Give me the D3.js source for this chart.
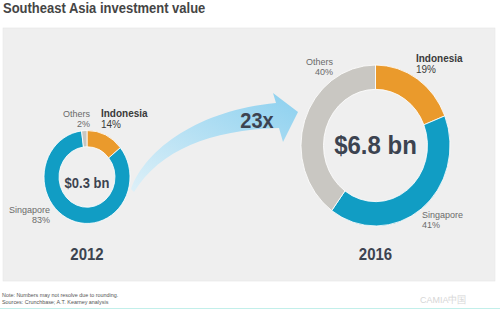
<!DOCTYPE html>
<html>
<head>
<meta charset="utf-8">
<script src="https://cdn.jsdelivr.net/npm/d3@7"></script>
<style>
  html, body { margin: 0; padding: 0; background: #ffffff; }
  svg { display: block; font-family: "Liberation Sans", Arial, Helvetica, sans-serif; }
</style>
</head>
<body>
<svg id="chart" width="500" height="309"></svg>
<script>
// Investment by country, share of total (%)
const categories = ["Indonesia", "Singapore", "Others"];
const years = ["2012", "2016"];
const totals = ["$0.3 bn", "$6.8 bn"];
const share2012 = [14, 83, 2];
const share2016 = [19, 41, 40];
const growthLabel = "23x";
const title = "Southeast Asia investment value";
const notes = ["Note: Numbers may not resolve due to rounding.",
               "Sources: Crunchbase; A.T. Kearney analysis"];

const colors = d3.scaleOrdinal()
  .domain(categories)
  .range(["#EA9A2C", "#119DC4", "#C9C7C2"]);

const svg = d3.select("#chart");
const SY = 1.08;                 // slight vertical stretch of the whole figure
const Y = v => v / SY;
const root = svg.append("g").attr("transform", `scale(1,${SY})`);

// title
root.append("text")
  .attr("x", 3).attr("y", Y(13))
  .attr("font-size", 13).attr("font-weight", "bold")
  .attr("fill", "#454545")
  .text(title);

// panel
root.append("rect")
  .attr("x", 3).attr("y", Y(28)).attr("width", 492).attr("height", Y(281) - Y(28))
  .attr("fill", "#EFEFEF").attr("stroke", "#E6E6E6").attr("stroke-width", 0.6);

// growth arrow
const defs = svg.append("defs");
const grad = defs.append("linearGradient").attr("id", "arrowGrad")
  .attr("x1", "0%").attr("y1", "100%").attr("x2", "100%").attr("y2", "0%");
grad.append("stop").attr("offset", "0%").attr("stop-color", "#DDF0F8");
grad.append("stop").attr("offset", "100%").attr("stop-color", "#8CD0EF");

const ap = d3.path();
ap.moveTo(131, Y(189));
ap.bezierCurveTo(146, Y(148), 200, Y(110), 276, Y(103));
ap.lineTo(273, Y(93));
ap.lineTo(298, Y(112));
ap.lineTo(283, Y(142));
ap.lineTo(279, Y(128));
ap.bezierCurveTo(210, Y(130), 160, Y(150), 134, Y(192));
ap.closePath();
root.append("path").attr("d", ap.toString()).attr("fill", "url(#arrowGrad)");

root.append("text")
  .attr("x", 257).attr("y", Y(128))
  .attr("text-anchor", "middle")
  .attr("font-size", 20).attr("font-weight", "bold")
  .attr("fill", "#3C4350")
  .text(growthLabel);

// donut charts
const pie = d3.pie().sort(null).value(d => d.value);

const donuts = [
  { values: share2012, cx: 87, cy: 177, r0: 28, r1: 43, totalSize: 13, yearY: 260,
    labels: [
      { x: 101, y: 117, anchor: "start" },
      { x: 50, y: 213, anchor: "end" },
      { x: 90, y: 117, anchor: "end" }
    ], totalY: 188 },
  { values: share2016, cx: 375.5, cy: 145.5, r0: 52, r1: 74.5, totalSize: 24, yearY: 260,
    labels: [
      { x: 416, y: 62, anchor: "start" },
      { x: 422, y: 218, anchor: "start" },
      { x: 333, y: 65, anchor: "end" }
    ], totalY: 154 }
];

donuts.forEach((cfg, i) => {
  const data = categories.map((c, k) => ({ key: c, value: cfg.values[k] }));
  const arc = d3.arc().innerRadius(cfg.r0).outerRadius(cfg.r1);
  const g = root.append("g").attr("transform", `translate(${cfg.cx},${Y(cfg.cy)})`);

  g.selectAll("path")
    .data(pie(data))
    .join("path")
    .attr("d", arc)
    .attr("fill", d => colors(d.data.key))
    .attr("stroke", "#ffffff")
    .attr("stroke-width", 0.8);

  // total in the hole
  root.append("text")
    .attr("x", cfg.cx).attr("y", Y(cfg.totalY))
    .attr("text-anchor", "middle")
    .attr("font-size", cfg.totalSize).attr("font-weight", "bold")
    .attr("fill", "#3C4350")
    .text(totals[i]);

  // year under the donut
  root.append("text")
    .attr("x", cfg.cx).attr("y", Y(cfg.yearY))
    .attr("text-anchor", "middle")
    .attr("font-size", 15).attr("font-weight", "bold")
    .attr("fill", "#3C4350")
    .text(years[i]);

  // category labels
  data.forEach((d, k) => {
    const L = cfg.labels[k];
    const main = d.key === "Indonesia";
    const t = root.append("text")
      .attr("x", L.x).attr("y", Y(L.y))
      .attr("text-anchor", L.anchor)
      .attr("fill", main ? "#3A3A3A" : "#6A6A6A");
    t.append("tspan")
      .attr("x", L.x)
      .attr("font-size", main ? 10 : 9)
      .attr("font-weight", main ? "bold" : "normal")
      .text(d.key);
    t.append("tspan")
      .attr("x", L.x).attr("dy", main ? 10.5 : 9.5)
      .attr("font-size", main ? 10 : 9)
      .text(d.value + "%");
  });
});

// footnotes
notes.forEach((n, k) => {
  root.append("text")
    .attr("x", 2).attr("y", Y(297 + k * 7))
    .attr("font-size", 5.4).attr("fill", "#555")
    .text(n);
});

// watermark
root.append("text")
  .attr("x", 420).attr("y", Y(303))
  .attr("font-size", 9).attr("fill", "#D6D6D6")
  .text("CAMIA中国");

// bottom rule
svg.append("line")
  .attr("x1", 0).attr("x2", 500).attr("y1", 308.5).attr("y2", 308.5)
  .attr("stroke", "#C2EFEA").attr("stroke-width", 1);
</script>
</body>
</html>
